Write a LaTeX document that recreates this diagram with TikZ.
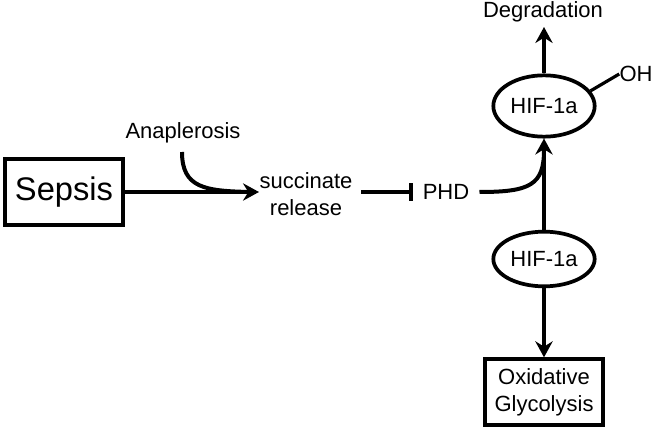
\documentclass[tikz,border=0pt]{standalone}
\usepackage{fontspec}
\setmainfont{Liberation Sans}
\usetikzlibrary{shapes.geometric,arrows.meta}
\begin{document}
\begin{tikzpicture}[x=0.75pt,y=-0.75pt,
  conn/.style={line width=3pt},
  arr/.style={conn,-{Stealth[length=12pt,width=13pt,inset=4pt]}},
  inh/.style={conn,-{Bar[width=13pt,line width=2.8pt]}},
  boxnode/.style={draw,line width=3pt,minimum width=89pt,minimum height=50pt,inner sep=0pt,align=center},
  hif/.style={draw,ellipse,line width=2.8pt,minimum width=76pt,inner sep=0pt,font=\fontsize{16.5}{19}\selectfont},
  lbl/.style={font=\fontsize{16.5}{19}\selectfont,inner sep=0pt,align=center}]
\useasboundingbox (0,0) rectangle (653,431);
\node[boxnode,font=\fontsize{24.5}{28}\selectfont,minimum width=89pt] (sepsis) at (64,192) {Sepsis};
\node[lbl] (ana) at (183,133) {Anaplerosis};
\node[lbl,font=\fontsize{16.5}{20.5}\selectfont] (succ) at (306,194) {succinate\\release};
\node[lbl] (phd) at (446,192) {PHD};
\node[hif,minimum height=46pt] (hifu) at (544,106) {HIF-1a};
\node[hif,minimum height=41pt] (hifl) at (544,259) {HIF-1a};
\node[lbl] (deg) at (543,12) {Degradation};
\node[lbl] (oh) at (636,74) {OH};
\node[boxnode,font=\fontsize{16.5}{20.5}\selectfont,minimum height=49pt] (ox) at (544,392) {Oxidative\\Glycolysis};
\coordinate (sj) at (259,192);
\coordinate (pj) at (544,150);
\coordinate (dg) at (544,27);
\coordinate (ib) at (361,192);
\coordinate (ie) at (413,192);
% Sepsis -> succinate
\draw[arr] (sepsis.east) -- (sj);
\draw[conn] (182,152) .. controls (182,188) and (205,191) .. (250,192);
% succinate -| PHD
\draw[inh] (ib) -- (ie);
% PHD -> HIF upper
\draw[conn] (phd.east) ++(10,0) .. controls (530,192) and (544,185) .. (pj);
\draw[arr] (hifl.north) -- (hifu.south);
% degradation
\draw[arr] (hifu.north) -- (dg);
% OH
\draw[conn,line width=2.4pt] (hifu.18) -- (oh.west);
% lower HIF -> box
\draw[arr] (hifl.south) -- (ox.north);
\end{tikzpicture}
\end{document}
